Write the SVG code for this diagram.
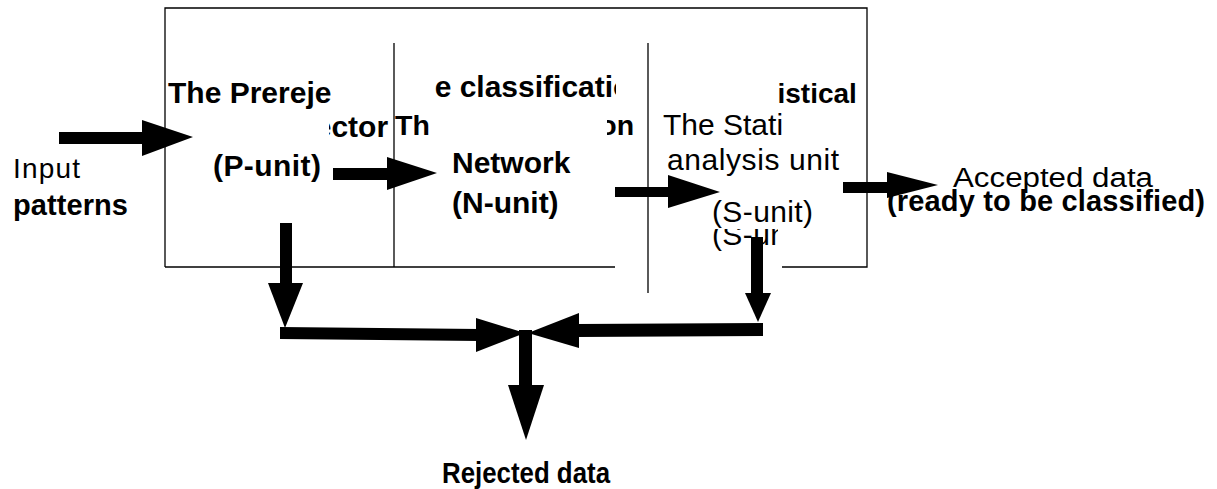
<svg xmlns="http://www.w3.org/2000/svg" width="1217" height="489" viewBox="0 0 1217 489">
<style>
text{font-family:"Liberation Sans",Arial,sans-serif;fill:#000}
.b{font-weight:bold}
.ln{stroke:#000;stroke-width:1.3;fill:none}
.ar{fill:#000;stroke:none}
</style>
<defs>
<clipPath id="cP1"><rect x="150" y="60" width="181" height="60"/></clipPath>
<clipPath id="cP2"><rect x="329" y="105" width="65" height="45"/></clipPath>
<clipPath id="cN1"><rect x="434.5" y="60" width="181.5" height="45"/></clipPath>
<clipPath id="cN2"><rect x="394" y="105" width="36" height="40"/><rect x="607" y="105" width="40" height="40"/></clipPath>
<clipPath id="cS1"><rect x="778" y="60" width="89" height="50"/></clipPath>
<clipPath id="cS2"><rect x="649" y="105" width="133" height="40"/></clipPath>
<clipPath id="cS3"><rect x="700" y="229" width="78" height="30"/></clipPath>
</defs>
<g id="frame">
<path class="ln" d="M165,267 V8 H867 V267 H782"/>
<path class="ln" d="M165,267 H615"/>
<path class="ln" d="M394,43 V267"/>
<path class="ln" d="M648,43 V293"/>
</g>
<g id="input">
<text x="13" y="178" font-size="28" textLength="67">Input</text>
<text class="b" x="13" y="215" font-size="29" textLength="115">patterns</text>
</g>
<g id="p-unit">
<text class="b" x="168" y="103" font-size="30" clip-path="url(#cP1)">The Prerejector</text>
<text class="b" x="168" y="137" font-size="30" clip-path="url(#cP2)">The Prerejector</text>
<text class="b" x="213" y="176" font-size="30" textLength="108">(P-unit)</text>
</g>
<g id="n-unit">
<text class="b" x="398" y="97" font-size="30" clip-path="url(#cN1)">The classification</text>
<text class="b" x="395" y="135" font-size="28.5" clip-path="url(#cN2)">The classification</text>
<text class="b" x="452" y="173" font-size="30">Network</text>
<text class="b" x="452" y="213" font-size="30">(N-unit)</text>
</g>
<g id="s-unit">
<text class="b" x="667" y="103" font-size="28" clip-path="url(#cS1)">The Statistical</text>
<text x="663" y="135" font-size="30" clip-path="url(#cS2)">The Statistical</text>
<text x="667" y="170" font-size="30" textLength="172">analysis unit</text>
<text x="712" y="222" font-size="30" textLength="101">(S-unit)</text>
<text x="712" y="245" font-size="30" textLength="101" clip-path="url(#cS3)">(S-unit)</text>
</g>
<g id="accepted">
<text x="953" y="187" font-size="27" textLength="200" lengthAdjust="spacingAndGlyphs">Accepted data</text>
<text class="b" x="887" y="211" font-size="29" textLength="318">(ready to be classified)</text>
</g>
<g id="rejected">
<text class="b" x="442" y="483" font-size="29" textLength="168" lengthAdjust="spacingAndGlyphs">Rejected data</text>
</g>
<g id="connectors">
<rect class="ar" x="59" y="132" width="85" height="12"/>
<polygon class="ar" points="142,120 193,137 142,156"/>
<rect class="ar" x="333" y="168" width="56" height="12"/>
<polygon class="ar" points="387,157 437,173 387,190"/>
<rect class="ar" x="615" y="187" width="54" height="10"/>
<polygon class="ar" points="668,175 720,192 668,208"/>
<rect class="ar" x="843" y="182" width="46" height="11"/>
<polygon class="ar" points="887,172 938,185 887,198"/>
<rect class="ar" x="280" y="223" width="12" height="61"/>
<polygon class="ar" points="268,283 303,283 285,328"/>
<polygon class="ar" points="280,327 480,329 480,341 280,339"/>
<polygon class="ar" points="476,318 525,333 476,352"/>
<rect class="ar" x="751" y="237" width="12" height="57"/>
<polygon class="ar" points="745,293 771,293 758,322"/>
<polygon class="ar" points="763,323 763,336 577,337 577,324"/>
<polygon class="ar" points="579,313 579,348 528,333"/>
<rect class="ar" x="519" y="330" width="13" height="56"/>
<polygon class="ar" points="508,385 544,385 526,440"/>
</g>
</svg>
